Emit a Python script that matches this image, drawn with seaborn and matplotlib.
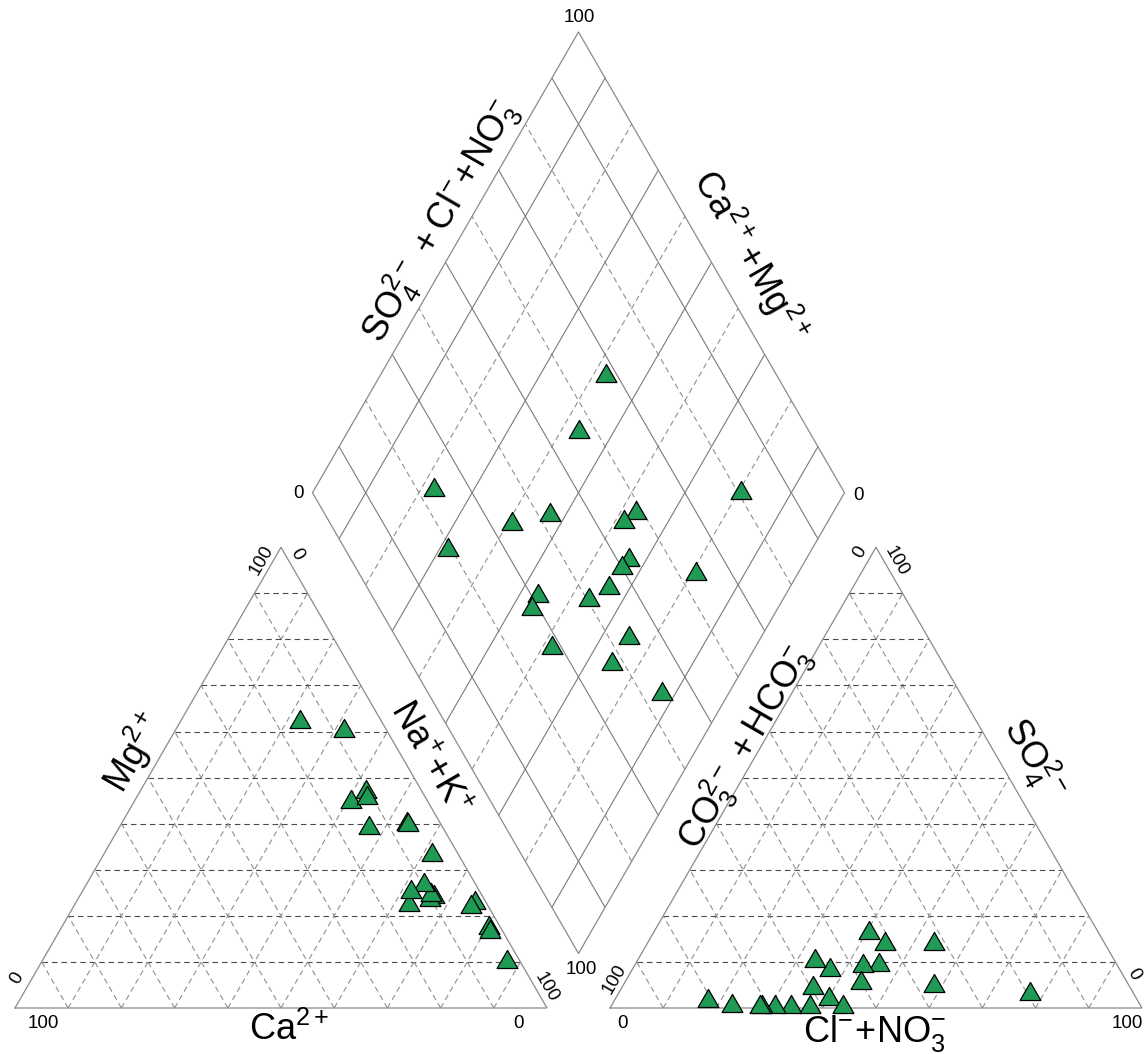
import numpy as np
import pandas as pd
import matplotlib
matplotlib.use("Agg")
import matplotlib.pyplot as plt
from matplotlib.path import Path
from matplotlib.markers import MarkerStyle
import seaborn as sns

# ---------------- data (meq %) ----------------
sample_ids = [f"S{i}" for i in range(1, 21)]
mg     = [62.0, 39.0, 44.7, 22.3, 33.2, 60.1, 17.3, 24.1, 23.4, 16.5,
          24.5, 26.7, 40.0, 39.7, 25.2, 22.7, 22.0, 10.0, 46.9, 45.5]
na_k   = [22.5, 47.0, 40.8, 63.0, 61.7, 31.7, 80.5, 66.7, 66.4, 81.0,
          66.0, 63.5, 53.7, 54.0, 61.9, 75.2, 74.8, 87.5, 42.6, 43.5]
ca     = [15.5, 14.0, 14.5, 14.7, 5.1, 8.2, 2.2, 9.2, 10.2, 2.5,
          9.5, 9.8, 6.3, 6.3, 12.9, 2.1, 3.2, 2.5, 10.5, 11.0]
so4    = [0.4, 1.9, 0.3, 13.9, 9.3, 1.6, 3.0, 9.1, 5.5, 4.8,
          8.2, 4.3, 0.3, 0.3, 0.3, 10.3, 0.3, 0.3, 13.9, 16.2]
cl_no3 = [22.7, 40.3, 33.8, 44.8, 46.0, 17.6, 77.5, 43.0, 44.5, 58.5,
          37.2, 36.0, 30.9, 28.4, 28.0, 33.4, 37.4, 43.6, 54.0, 40.5]
hco3   = [76.9, 57.8, 65.9, 41.3, 44.7, 80.8, 19.5, 47.9, 50.0, 36.7,
          54.6, 59.7, 68.8, 71.3, 71.7, 56.3, 62.3, 56.1, 32.1, 43.3]

# ---------------- style ----------------
sns.set_theme(style="white")
plt.rcParams['font.family'] = ['Liberation Sans', 'DejaVu Sans']
plt.rcParams['mathtext.fontset'] = 'custom'
plt.rcParams['mathtext.rm'] = 'Liberation Sans'
plt.rcParams['mathtext.it'] = 'Liberation Sans:italic'
plt.rcParams['mathtext.bf'] = 'Liberation Sans:bold'

H = np.sqrt(3) / 2
UNIT_PX = 532.0
X0_PX, Y0_PX = 15.0, 1008.0
GAP = 63.0 / UNIT_PX
OX = 1 + GAP                      # right triangle origin
BX, BY = 1 + GAP / 2, GAP * H     # diamond bottom vertex


def P(px, py):
    """pixel position -> data position (layout helper for text)"""
    return (px - X0_PX) / UNIT_PX, (Y0_PX - py) / UNIT_PX


fig = plt.figure(figsize=(11.46, 10.54), dpi=100)
ax = fig.add_axes([0, 0, 1, 1])

EDGE = '#8a8a8a'
HDASH = '#4a4a4a'
DDASH = '#8f8f8f'
DASH = (0, (5, 3.5))

# ---------------- triangles ----------------
for ox in (0.0, OX):
    ax.plot([ox, ox + 1, ox + 0.5, ox], [0, 0, H, 0], color=EDGE, lw=0.9,
            solid_joinstyle='miter', zorder=2)
    for i in range(1, 10):
        f = i / 10
        ax.plot([ox + f / 2, ox + 1 - f / 2], [H * f, H * f], color=HDASH,
                lw=0.8, ls=DASH, zorder=1)
        ax.plot([ox + f, ox + f + (1 - f) / 2], [0, H * (1 - f)], color=DDASH,
                lw=0.8, ls=DASH, zorder=1)
        ax.plot([ox + 1 - f, ox + (1 - f) / 2], [0, H * (1 - f)], color=DDASH,
                lw=0.8, ls=DASH, zorder=1)

# ---------------- diamond ----------------
dx = [BX, BX - 0.5, BX, BX + 0.5, BX]
dy = [BY, BY + H, BY + 2 * H, BY + H, BY]
ax.plot(dx, dy, color=EDGE, lw=0.9, zorder=2)
for i in range(1, 10):
    f = i / 10
    solid = (i % 2 == 1)
    kw = dict(color='#7a7a7a', lw=0.8) if solid else dict(color=DDASH, lw=0.8, ls=DASH)
    x0, y0 = BX - 0.5 * f, BY + H * f
    ax.plot([x0, x0 + 0.5], [y0, y0 + H], zorder=1, **kw)
    x0, y0 = BX + 0.5 * f, BY + H * f
    ax.plot([x0, x0 - 0.5], [y0, y0 + H], zorder=1, **kw)

# ---------------- points ----------------
mg_a, nak_a = np.array(mg), np.array(na_k)
so4_a, cl_a = np.array(so4), np.array(cl_no3)

cat = pd.DataFrame({'id': sample_ids, 'x': (nak_a + mg_a / 2) / 100,
                    'y': H * mg_a / 100, 'panel': 'cation'})
an = pd.DataFrame({'id': sample_ids, 'x': OX + (cl_a + so4_a / 2) / 100,
                   'y': H * so4_a / 100, 'panel': 'anion'})
a = nak_a / 100
s = (so4_a + cl_a) / 100
dia = pd.DataFrame({'id': sample_ids, 'x': BX - 0.5 * (1 - a) + 0.5 * s,
                    'y': BY + H * (1 - a) + H * s, 'panel': 'diamond'})
df = pd.concat([cat, an, dia], ignore_index=True)

tri = MarkerStyle(Path([(0, 1.1547), (-1, -0.57735), (1, -0.57735), (0, 1.1547)],
                       closed=True))
sns.scatterplot(data=df, x='x', y='y', marker=tri, s=300, color='#1f9b55',
                edgecolor='black', linewidth=0.9, legend=False, ax=ax, zorder=5)

# ---------------- text ----------------
LAB = 26
TCK = 13.5


def txt(px, py, s, size, rot=0):
    ax.text(*P(px, py), s, fontsize=size, rotation=rot, rotation_mode='anchor',
            ha='center', va='center', color='black', zorder=6)


# left triangle
txt(43, 1023, '100', TCK)
txt(518, 1023, '0', TCK)
txt(17, 978, '0', TCK, 60)
txt(262, 560, '100', TCK, 60)
txt(297, 554, '0', TCK, -60)
txt(546, 987, '100', TCK, -60)
txt(289, 1030, r'$\mathregular{Ca^{2+}}$', LAB)
txt(134, 752, r'$\mathregular{Mg^{2+}}$', LAB, 60)
txt(430, 758, r'$\mathregular{Na^{+}\!+\!K^{+}}$', LAB, -60)

# right triangle
txt(623, 1023, '0', TCK)
txt(1127, 1023, '100', TCK)
txt(615, 979, '100', TCK, 60)
txt(1134, 974, '0', TCK, -60)
txt(860, 552, '0', TCK, 60)
txt(896, 561, '100', TCK, -60)
txt(745, 748, r'$\mathregular{CO_3^{2-}\,+HCO_3^{-}}$', LAB, 60)
txt(1034, 759, r'$\mathregular{SO_4^{2-}}$', LAB, -60)
txt(875, 1033, r'$\mathregular{Cl^{-}\!+\!NO_3^{-}}$', LAB)

# diamond
txt(579, 17, '100', TCK)
txt(299, 493, '0', TCK)
txt(859, 496, '0', TCK)
txt(581, 970, '100', TCK)
txt(440, 222, r'$\mathregular{SO_4^{2-}\,+Cl^{-}\!+\!NO_3^{-}}$', LAB, 60)
txt(750, 256, r'$\mathregular{Ca^{2+}\!+\!Mg^{2+}}$', LAB, -60)

ax.set_xlim(-X0_PX / UNIT_PX, (1146 - X0_PX) / UNIT_PX)
ax.set_ylim(-(1054 - Y0_PX) / UNIT_PX, Y0_PX / UNIT_PX)
ax.set_aspect('equal')
ax.axis('off')

fig.savefig('out.png', dpi=100)
